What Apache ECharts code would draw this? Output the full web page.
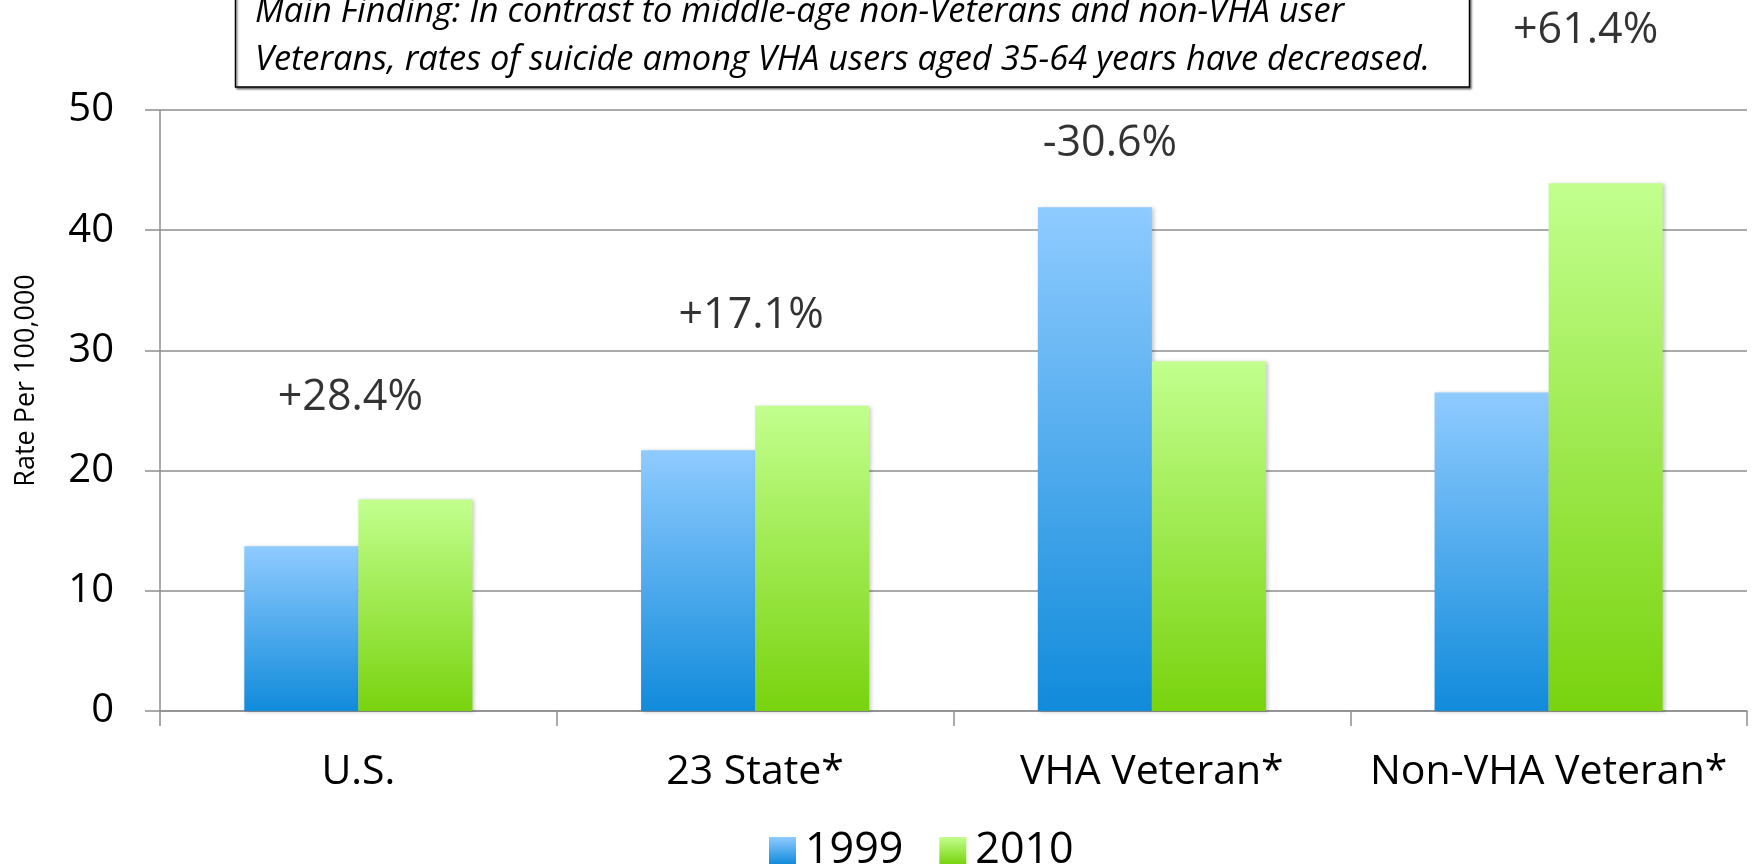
<!DOCTYPE html>
<html>
<head>
<meta charset="utf-8">
<script src="https://cdn.jsdelivr.net/npm/echarts@6/dist/echarts.min.js"></script>
<style>
html,body{margin:0;padding:0;background:#fff;}
#main{width:1752px;height:865px;}
</style>
</head>
<body>
<div id="main"></div>
<script>
// ---- data ----
const categories = ['U.S.', '23 State*', 'VHA Veteran*', 'Non-VHA Veteran*'];
const seriesNames = ['1999', '2010'];
const values1999 = [13.7, 21.7, 41.9, 26.5];
const values2010 = [17.6, 25.4, 29.1, 43.9];
const changeLabels = ['+28.4%', '+17.1%', '-30.6%', '+61.4%'];
const yTicks = [0, 10, 20, 30, 40, 50];
const yAxisTitle = 'Rate Per 100,000';
const findingLines = [
  'Main Finding: In contrast to middle-age non-Veterans and non-VHA user',
  'Veterans, rates of suicide among VHA users aged 35-64 years have decreased.'
];

// ---- layout / style ----
const FONT = '"Open Sans", sans-serif';
const annoY = [26.1, 32.9, 47.2, 56.6];
const annoDX = [-8, -4, -42, 37];

function grad(top, bottom) {
  return new echarts.graphic.LinearGradient(0, 0, 0, 1, [
    { offset: 0, color: top },
    { offset: 1, color: bottom }
  ]);
}
const blue = grad('#8fcbff', '#118bdb');
const green = grad('#c2ff8e', '#79d30e');
const barShadow = { shadowBlur: 4, shadowColor: 'rgba(0,0,0,0.22)', shadowOffsetX: 2, shadowOffsetY: 1 };

const chart = echarts.init(document.getElementById('main'), null, { renderer: 'canvas' });

const option = {
  animation: false,
  backgroundColor: '#ffffff',
  textStyle: { fontFamily: FONT },
  grid: { left: 160, right: 5, top: 110, bottom: 154, containLabel: false },
  legend: {
    data: seriesNames,
    left: 764,
    top: 824,
    itemWidth: 27,
    itemHeight: 27,
    itemGap: 36,
    icon: 'rect',
    textStyle: { fontFamily: FONT, fontSize: 43, color: '#000', padding: [0, 0, 0, 4] }
  },
  xAxis: {
    type: 'category',
    data: categories,
    axisLine: { lineStyle: { color: '#8e8e8e', width: 1.5 } },
    axisTick: { show: true, length: 15, lineStyle: { color: '#8e8e8e', width: 1.5 } },
    axisLabel: { fontFamily: FONT, fontSize: 41, color: '#000', margin: 41, interval: 0 }
  },
  yAxis: {
    type: 'value',
    min: yTicks[0],
    max: yTicks[yTicks.length - 1],
    interval: yTicks[1] - yTicks[0],
    name: yAxisTitle,
    nameLocation: 'middle',
    nameGap: 120,
    nameTextStyle: { fontFamily: FONT, fontSize: 27, color: '#000', padding: [0, 0, 0, 60] },
    axisLine: { show: true, lineStyle: { color: '#8e8e8e', width: 1.5 } },
    axisTick: { show: true, length: 15, lineStyle: { color: '#8e8e8e', width: 1.5 } },
    splitLine: { lineStyle: { color: '#8e8e8e', width: 1.5 } },
    axisLabel: { fontFamily: FONT, fontSize: 40, color: '#000', margin: 46 }
  },
  series: [
    {
      name: seriesNames[0],
      type: 'bar',
      data: values1999,
      barGap: '0%',
      barCategoryGap: '42.5%',
      itemStyle: Object.assign({ color: blue }, barShadow)
    },
    {
      name: seriesNames[1],
      type: 'bar',
      data: values2010,
      barGap: '0%',
      barCategoryGap: '42.5%',
      itemStyle: Object.assign({ color: green }, barShadow)
    },
    {
      name: 'change',
      type: 'scatter',
      clip: false,
      symbolSize: 0,
      silent: true,
      data: changeLabels.map((t, i) => ({
        value: [i, annoY[i]],
        label: { offset: [annoDX[i], 0] }
      })),
      label: {
        show: true,
        position: 'inside',
        formatter: p => changeLabels[p.dataIndex],
        fontFamily: FONT,
        fontSize: 43,
        color: '#000'
      }
    }
  ],
  graphic: [
    {
      type: 'rect',
      shape: { x: 235.5, y: -10, width: 1234, height: 97 },
      style: {
        fill: '#fff', stroke: '#000', lineWidth: 1.5,
        shadowColor: 'rgba(0,0,0,0.45)', shadowBlur: 2, shadowOffsetX: 1.5, shadowOffsetY: 1.5
      },
      z: 10
    },
    {
      type: 'text', left: 255, top: -5, z: 11,
      style: { text: findingLines[0], fontFamily: FONT, fontStyle: 'italic', fontSize: 34.4, fill: '#000' }
    },
    {
      type: 'text', left: 255, top: 43, z: 11,
      style: { text: findingLines[1], fontFamily: FONT, fontStyle: 'italic', fontSize: 34.4, fill: '#000' }
    }
  ]
};
chart.setOption(option);
</script>
</body>
</html>
